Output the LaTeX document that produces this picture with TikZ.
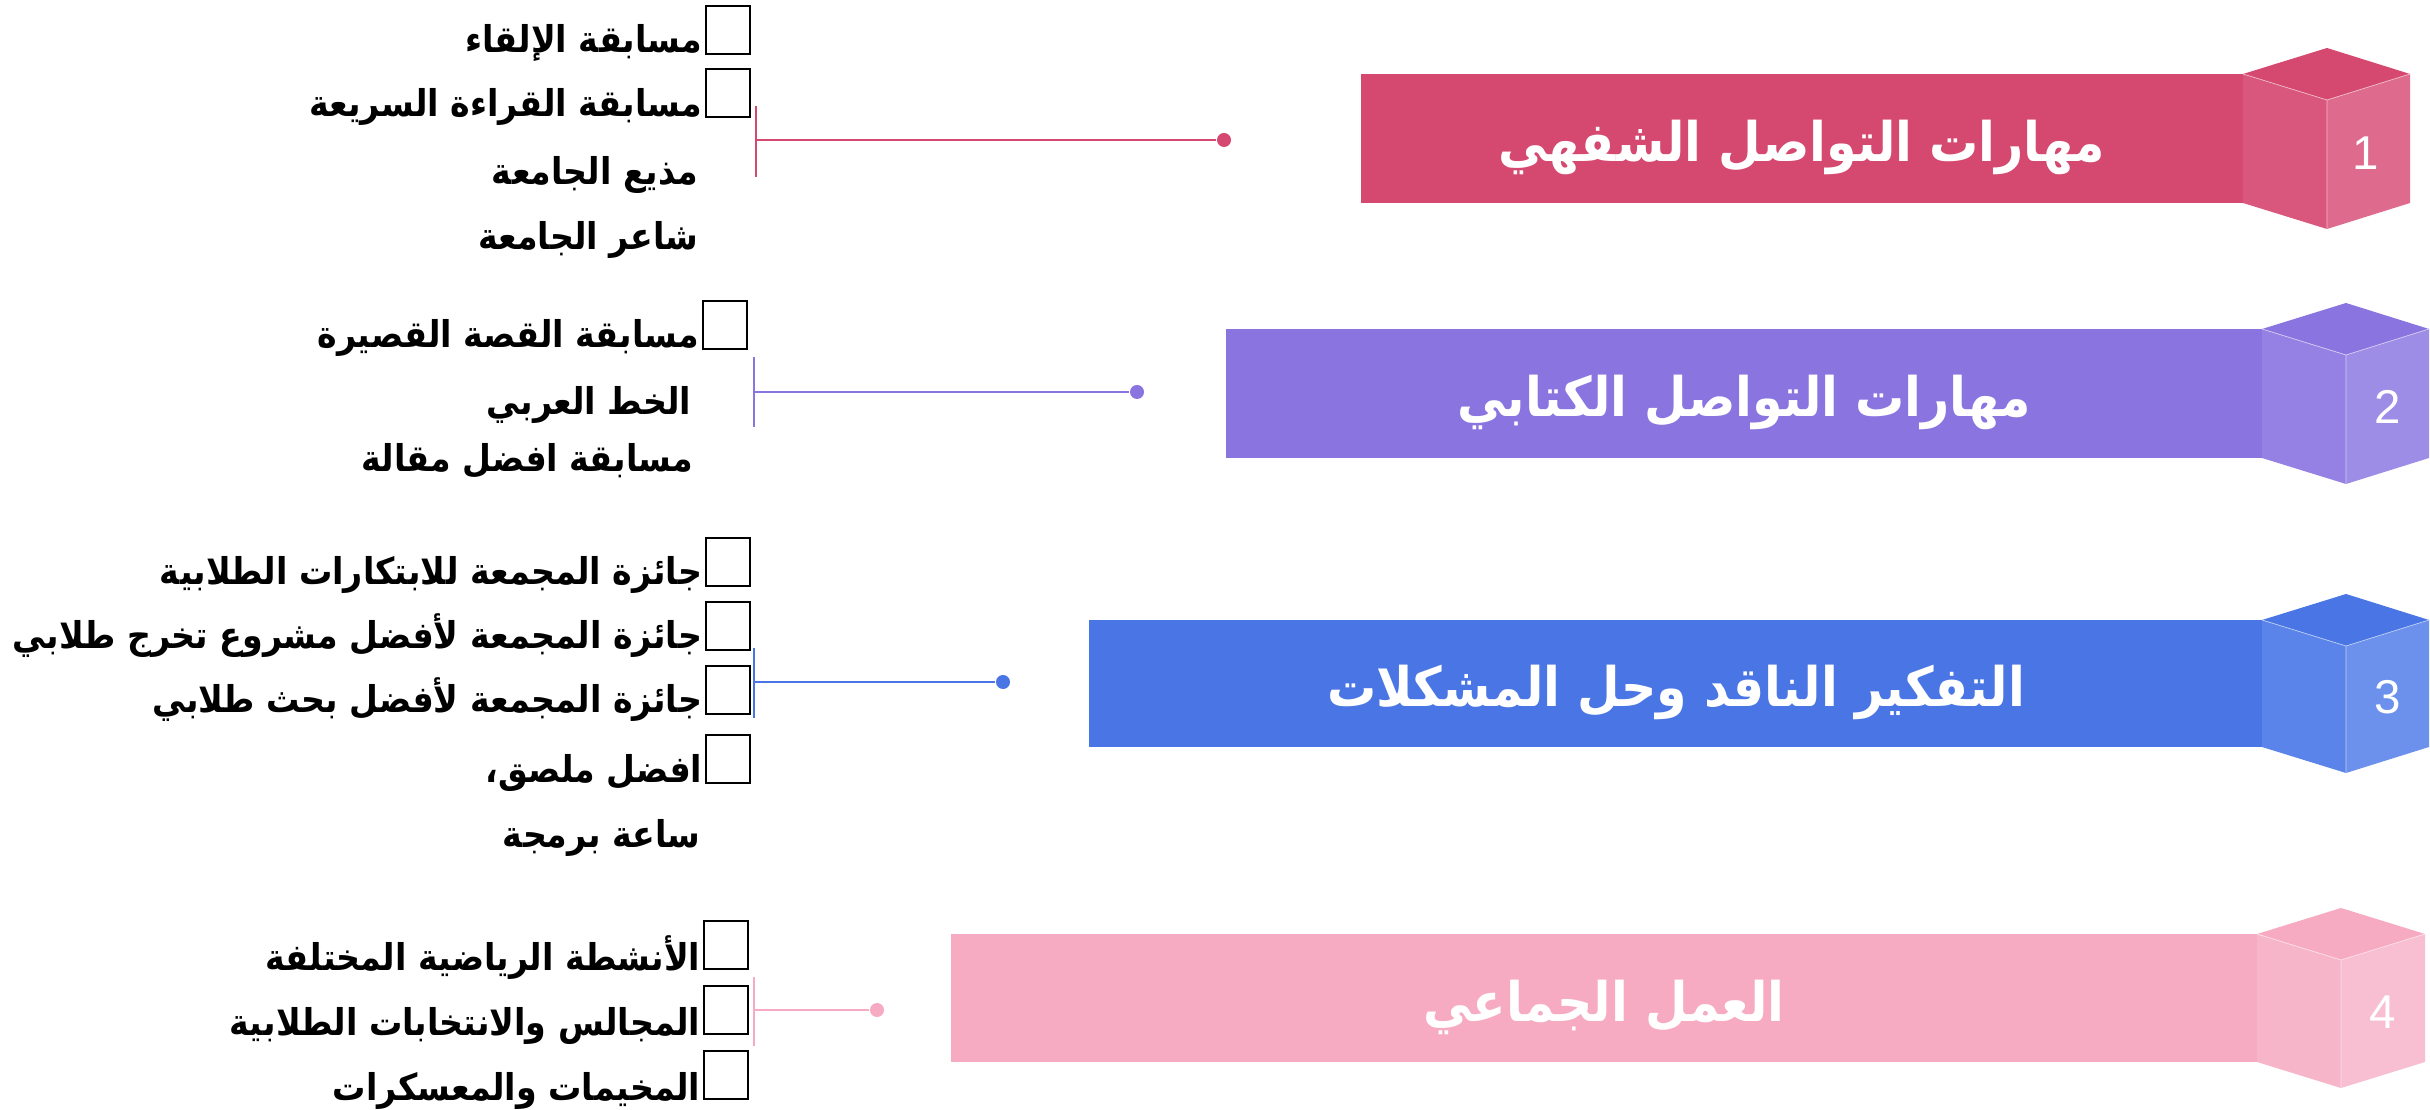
\documentclass[tikz,border=0pt]{standalone}
\usepackage{graphicx}
\usepackage{fontspec}
\setmainfont{Liberation Sans}
\newfontfamily\arabicfont[Script=Arabic]{DejaVu Sans}
\TeXXeTstate=1
\definecolor{cA}{HTML}{D5486F}\definecolor{cAl}{HTML}{D9577D}\definecolor{cAr}{HTML}{DE6A8D}
\definecolor{cB}{HTML}{8A75E0}\definecolor{cBl}{HTML}{9581E3}\definecolor{cBr}{HTML}{9E8DE7}
\definecolor{cC}{HTML}{4A76E5}\definecolor{cCl}{HTML}{5A84E9}\definecolor{cCr}{HTML}{6B91EC}
\definecolor{cD}{HTML}{F7ABC2}\definecolor{cDl}{HTML}{F7B5CA}\definecolor{cDr}{HTML}{F8BED1}
\newcommand{\mycube}[9]{% L C R T B d top left right
  \fill[#7] (#1,#4) -- (#2,#4-#6) -- (#3,#4) -- (#2,#4+#6) -- cycle;
  \fill[#8] (#1,#4) -- (#2,#4+#6) -- (#2,#5+#6) -- (#1,#5) -- cycle;
  \fill[#9] (#2,#4+#6) -- (#3,#4) -- (#3,#5) -- (#2,#5+#6) -- cycle;
  \draw[white!60!#8, line width=0.2pt] (#1,#4) -- (#2,#4+#6) -- (#3,#4) (#2,#4+#6) -- (#2,#5+#6);
}
\newcommand{\artitle}[1]{\scalebox{0.9}[1]{\beginR #1\endR}}
\newcommand{\aritem}[1]{\scalebox{0.9}[1]{\beginR #1\endR}}
\begin{document}
\begin{tikzpicture}[x=0.01cm,y=-0.01cm,
  band/.style={rectangle, inner sep=0, outer sep=0, anchor=north west},
  title/.style={text=white, font=\arabicfont\bfseries\fontsize{15.5}{18}\selectfont, anchor=base, inner sep=0},
  item/.style={font=\arabicfont\bfseries\fontsize{10.5}{12}\selectfont, anchor=base east, inner sep=0},
  chk/.style={draw=black, line width=0.7pt, minimum width=0.44cm, minimum height=0.48cm, inner sep=0, anchor=south west},
  numlbl/.style={text=white, font=\fontsize{13.5}{15}\selectfont, inner sep=0},
  dotn/.style={circle, inner sep=0, minimum size=0.14cm},
  conn/.style={line width=0.6pt}]
\useasboundingbox (0,0) rectangle (2430,1110);

% bands
\node[band, fill=cA, minimum width=8.83cm, minimum height=1.29cm] (r1) at (1361,74) {};
\node[band, fill=cB, minimum width=10.37cm, minimum height=1.29cm] (r2) at (1226,329) {};
\node[band, fill=cC, minimum width=11.74cm, minimum height=1.27cm] (r3) at (1089,620) {};
\node[band, fill=cD, minimum width=13.07cm, minimum height=1.28cm] (r4) at (951,934) {};

% cubes
\mycube{2243}{2327}{2410}{74}{203}{26}{cA}{cAl}{cAr}
\mycube{2262}{2346}{2429}{329}{458}{26}{cB}{cBl}{cBr}
\mycube{2262}{2346}{2429}{620}{747}{26}{cC}{cCl}{cCr}
\mycube{2257}{2341}{2425}{934}{1062}{26}{cD}{cDl}{cDr}

% numbers
\node[numlbl] (n1) at (2366,153) {1};
\node[numlbl] (n2) at (2388,407) {2};
\node[numlbl] (n3) at (2388,697) {3};
\node[numlbl] (n4) at (2383,1012) {4};

% titles
\node[title] (h1) at (1802,162) {\artitle{مهارات التواصل الشفهي}};
\node[title] (h2) at (1744,417) {\artitle{مهارات التواصل الكتابي}};
\node[title] (h3) at (1676,707) {\artitle{التفكير الناقد وحل المشكلات}};
\node[title] (h4) at (1604,1021) {\artitle{العمل الجماعي}};

% connectors
\node[dotn, fill=cA] (d1) at (1224,140) {};
\coordinate (b1t) at (756,106); \coordinate (b1b) at (756,177); \coordinate (b1m) at (756,140);
\draw[conn, cA] (b1t) -- (b1b); \draw[conn, cA] (b1m) -- (d1);

\node[dotn, fill=cB] (d2) at (1137,392) {};
\coordinate (b2t) at (754,357); \coordinate (b2b) at (754,427); \coordinate (b2m) at (754,392);
\draw[conn, cB] (b2t) -- (b2b); \draw[conn, cB] (b2m) -- (d2);

\node[dotn, fill=cC] (d3) at (1003,682) {};
\coordinate (b3t) at (754,648); \coordinate (b3b) at (754,718); \coordinate (b3m) at (754,682);
\draw[conn, cC] (b3t) -- (b3b); \draw[conn, cC] (b3m) -- (d3);

\node[dotn, fill=cD] (d4) at (877,1010) {};
\coordinate (b4t) at (754,977); \coordinate (b4b) at (754,1046); \coordinate (b4m) at (754,1010);
\draw[conn, cD] (b4t) -- (b4b); \draw[conn, cD] (b4m) -- (d4);

% list 1
\node[chk] (k11) at (705,55) {};
\node[item] (t11) at (703,53) {\aritem{مسابقة الإلقاء}};
\node[chk] (k12) at (705,118) {};
\node[item] (t12) at (703,117) {\aritem{مسابقة القراءة السريعة}};
\node[item] (t13) at (699,185) {\aritem{مذيع الجامعة}};
\node[item] (t14) at (699,250) {\aritem{شاعر الجامعة}};

% list 2
\node[chk] (k21) at (702,350) {};
\node[item] (t21) at (700,348) {\aritem{مسابقة القصة القصيرة}};
\node[item] (t22) at (692,415) {\aritem{الخط العربي}};
\node[item] (t23) at (694,472) {\aritem{مسابقة افضل مقالة}};

% list 3
\node[chk] (k31) at (705,587) {};
\node[item] (t31) at (703,585) {\aritem{جائزة المجمعة للابتكارات الطلابية}};
\node[chk] (k32) at (705,651) {};
\node[item] (t32) at (703,649) {\aritem{جائزة المجمعة لأفضل مشروع تخرج طلابي}};
\node[chk] (k33) at (705,715) {};
\node[item] (t33) at (703,713) {\aritem{جائزة المجمعة لأفضل بحث طلابي}};
\node[chk] (k34) at (705,784) {};
\node[item] (t34) at (703,783) {\aritem{افضل ملصق،}};
\node[item] (t35) at (701,847) {\aritem{ساعة برمجة}};

% list 4
\node[chk] (k41) at (703,970) {};
\node[item] (t41) at (701,970) {\aritem{الأنشطة الرياضية المختلفة}};
\node[chk] (k42) at (703,1035) {};
\node[item] (t42) at (701,1035) {\aritem{المجالس والانتخابات الطلابية}};
\node[chk] (k43) at (703,1100) {};
\node[item] (t43) at (701,1100) {\aritem{المخيمات والمعسكرات}};
\end{tikzpicture}
\end{document}
